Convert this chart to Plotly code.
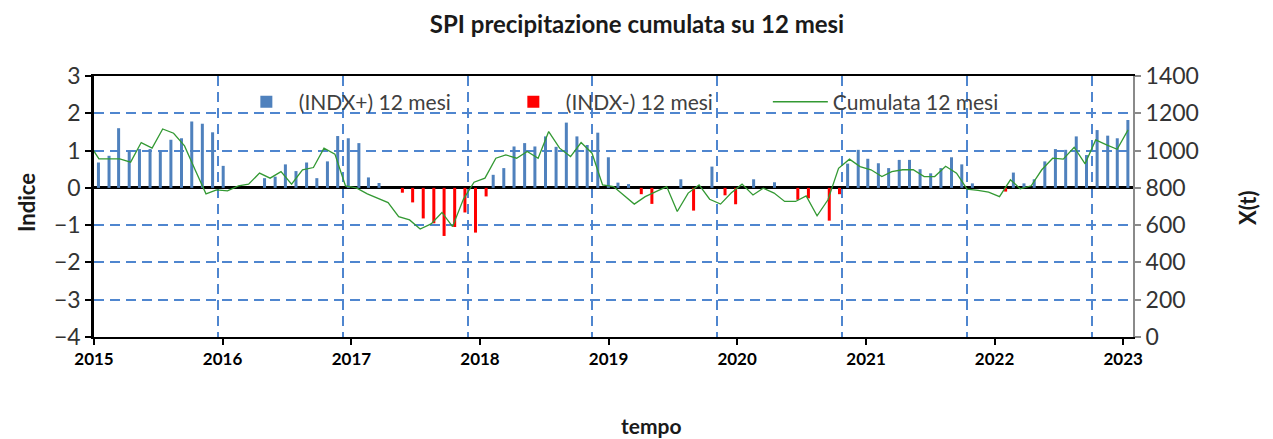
import pandas as pd
import plotly.graph_objects as go

# SPI a 12 mesi, un valore al mese (gen 2015 -> apr 2023)
spi_12 = [
    0.68, 0.86, 1.60, 1.00, 1.04, 1.04, 1.00, 1.29, 1.33, 1.78, 1.72, 1.49,
    0.59, 0.00, 0.00, 0.00, 0.26, 0.30, 0.63, 0.45, 0.68, 0.26, 0.71, 1.39,
    1.33, 1.20, 0.28, 0.13, 0.00, -0.13, -0.39, -0.82, -0.95, -1.29, -1.05, -0.66,
    -1.20, -0.23, 0.35, 0.53, 1.11, 1.20, 1.11, 1.38, 1.10, 1.75, 1.38, 1.15,
    1.48, 0.82, 0.14, 0.10, -0.17, -0.43, 0.00, 0.00, 0.23, -0.61, 0.00, 0.57,
    -0.20, -0.44, 0.00, 0.23, 0.00, 0.15, 0.00, -0.32, -0.28, 0.00, -0.88, -0.17,
    0.65, 1.02, 0.78, 0.66, 0.53, 0.75, 0.75, 0.50, 0.39, 0.53, 0.82, 0.63,
    0.12, 0.00, 0.00, -0.10, 0.41, 0.12, 0.23, 0.71, 1.04, 1.02, 1.38, 0.88,
    1.55, 1.40, 1.33, 1.82,
]

# precipitazione cumulata su 12 mesi, X(t) (dic 2014 -> gen 2023)
cumulata_12 = [
    1046,
    955, 955, 955, 938, 1043, 1013, 1116, 1093, 1025, 897, 768, 789,
    784, 811, 820, 879, 852, 887, 820, 897, 909, 1013, 981, 811,
    800, 768, 745, 721, 646, 628, 579, 607, 668, 592, 740, 830,
    852, 959, 977, 959, 995, 959, 1102, 1013, 968, 1043, 986, 816,
    807, 760, 713, 753, 780, 807, 673, 772, 816, 739, 713, 772,
    820, 762, 798, 772, 727, 727, 757, 650, 736, 905, 954, 914,
    897, 861, 887, 897, 897, 860, 861, 916, 879, 793, 786, 777,
    753, 843, 795, 811, 897, 959, 954, 1018, 929, 1057, 1031, 1007,
    1111,
]

year_labels = ["2015", "2016", "2017", "2018", "2019", "2020", "2021", "2022", "2023"]

bar_months = pd.date_range("2015-01-01", periods=len(spi_12), freq="MS")
line_months = pd.date_range("2014-12-01", periods=len(cumulata_12), freq="MS") + pd.Timedelta(days=14)
year_ticks = [f"{y}-01-01" for y in year_labels]

spi_pos = [v if v > 0 else None for v in spi_12]
spi_neg = [v if v < 0 else None for v in spi_12]

FONT = "Lato"
GRID = "#4f86cf"
DAY = 86400000
BAR_W = 8.8 * DAY

# la pagina html ha 8px di margine nel body: figura piu' piccola di 8px
W, H = 1265, 431

fig = go.Figure()

fig.add_trace(go.Bar(
    x=bar_months, y=spi_pos, name="(INDX+) 12 mesi",
    marker=dict(color="#4f81bd", line_width=0),
    width=BAR_W, offset=-4.4 * DAY,
    xaxis="x", yaxis="y",
))
fig.add_trace(go.Bar(
    x=bar_months, y=spi_neg, name="(INDX-) 12 mesi",
    marker=dict(color="#ff0000", line_width=0),
    width=BAR_W, offset=2.9 * DAY,
    xaxis="x", yaxis="y",
))
fig.add_trace(go.Scatter(
    x=line_months, y=cumulata_12, name="Cumulata 12 mesi",
    mode="lines", line=dict(color="#339933", width=1.3),
    xaxis="x2", yaxis="y2",
))

fig.update_layout(
    width=W, height=H,
    margin=dict(l=86, r=140, t=68, b=102),
    paper_bgcolor="white", plot_bgcolor="white",
    barmode="overlay",
    title=dict(
        text="<b>SPI precipitazione cumulata su 12 mesi</b>",
        x=(637 - 8) / W, xanchor="center", y=1 - 17 / H, yanchor="middle",
        font=dict(family=FONT, size=24, color="#1a1a1a"),
    ),
    legend=dict(
        orientation="h", x=0.1346, y=0.9, xanchor="left", yanchor="middle",
        bgcolor="rgba(0,0,0,0)",
        font=dict(family=FONT, size=21, color="#404040"),
        entrywidth=197, entrywidthmode="pixels", itemwidth=55,
    ),
    # asse delle barre: porta le griglie verticali tratteggiate
    xaxis=dict(
        type="date", range=["2014-12-19", "2023-04-16"],
        showgrid=True, gridcolor=GRID, gridwidth=2, griddash="10px,6px",
        tick0="2015-12-16", dtick="M12",
        showticklabels=False, ticks="",
        showline=True, linecolor="black", linewidth=2, mirror=True,
        zeroline=False,
    ),
    # asse degli anni (etichette in basso)
    xaxis2=dict(
        type="date", overlaying="x", side="bottom", anchor="y",
        range=["2015-01-01", "2023-01-29"],
        tickmode="array", tickvals=year_ticks, ticktext=year_labels,
        ticks="outside", ticklen=7, tickwidth=2, tickcolor="black",
        tickfont=dict(family=FONT, size=17, color="black", weight="bold"),
        showgrid=False, showline=False, zeroline=False,
    ),
    yaxis=dict(
        range=[-4, 3], dtick=1,
        showgrid=True, gridcolor=GRID, gridwidth=2, griddash="10px,6px",
        zeroline=True, zerolinecolor="black", zerolinewidth=3,
        showline=True, linecolor="black", linewidth=2.5,
        ticks="outside", ticklen=6, tickwidth=2, tickcolor="black",
        tickfont=dict(family=FONT, size=23, color="#333333"),
    ),
    yaxis2=dict(
        overlaying="y", side="right", range=[0, 1400], dtick=200,
        showgrid=False, zeroline=False,
        showline=True, linecolor="#8a8a8a", linewidth=2,
        ticks="outside", ticklen=6, tickwidth=2, tickcolor="#8a8a8a",
        tickfont=dict(family=FONT, size=23, color="#333333"),
    ),
)

# titoli degli assi
fig.add_annotation(text="<b>Indice</b>", xref="paper", yref="paper",
                   x=(26 - 94) / 1039, y=(337 - 203) / 261, textangle=-90,
                   xanchor="center", yanchor="middle",
                   showarrow=False, font=dict(family=FONT, size=22, color="#1a1a1a"))
fig.add_annotation(text="<b>X(t)</b>", xref="paper", yref="paper",
                   x=(1247 - 94) / 1039, y=(337 - 208) / 261, textangle=-90,
                   xanchor="center", yanchor="middle",
                   showarrow=False, font=dict(family=FONT, size=22, color="#1a1a1a"))
fig.add_annotation(text="<b>tempo</b>", xref="paper", yref="paper",
                   x=(651 - 94) / 1039, y=(337 - 425) / 261,
                   xanchor="center", yanchor="middle",
                   showarrow=False, font=dict(family=FONT, size=21, color="#1a1a1a"))

fig.write_html("out.html")
